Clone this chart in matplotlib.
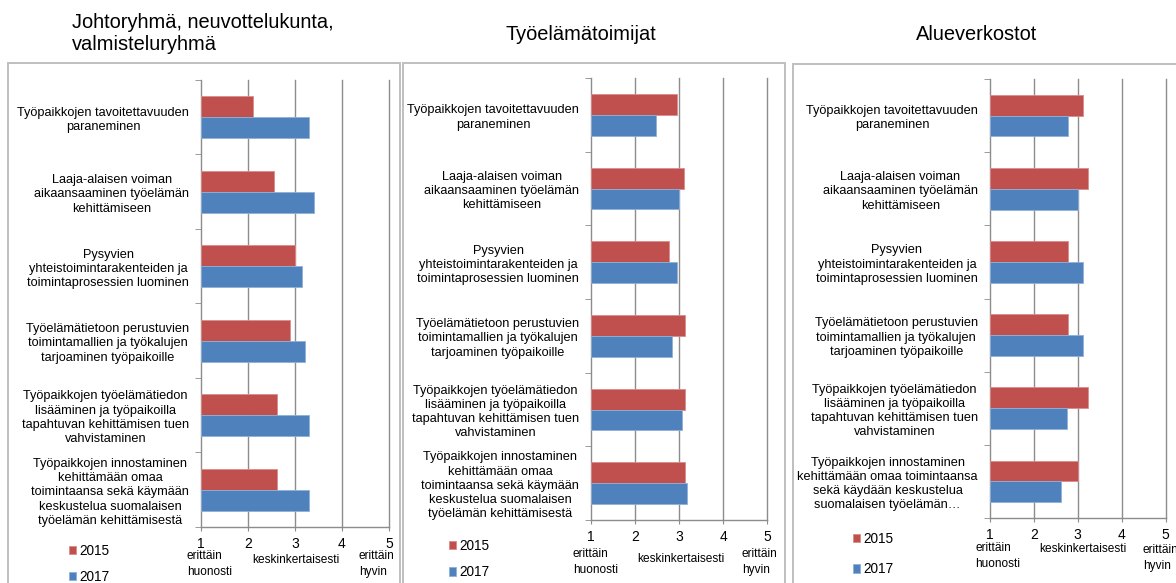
import matplotlib
matplotlib.use("Agg")
import numpy as np
import matplotlib.pyplot as plt
from matplotlib.patches import Rectangle

plt.rcParams["font.family"] = ["Liberation Sans", "DejaVu Sans"]

W, H = 1176, 583

YEARS = ["2015", "2017"]
SCALE = [1, 2, 3, 4, 5]
SCALE_WORDS = ["erittäin\nhuonosti", "keskinkertaisesti", "erittäin\nhyvin"]

TITLES = [
    "Johtoryhmä, neuvottelukunta,\nvalmisteluryhmä",
    "Työelämätoimijat",
    "Alueverkostot",
]

LABELS = [
    "Työpaikkojen tavoitettavuuden\nparaneminen",
    "Laaja-alaisen voiman\naikaansaaminen työelämän\nkehittämiseen",
    "Pysyvien\nyhteistoimintarakenteiden ja\ntoimintaprosessien luominen",
    "Työelämätietoon perustuvien\ntoimintamallien ja työkalujen\ntarjoaminen työpaikoille",
    "Työpaikkojen työelämätiedon\nlisääminen ja työpaikoilla\ntapahtuvan kehittämisen tuen\nvahvistaminen",
    "Työpaikkojen innostaminen\nkehittämään omaa\ntoimintaansa sekä käymään\nkeskustelua suomalaisen\ntyöelämän kehittämisestä",
]
LABELS_ALUE = LABELS[:5] + [
    "Työpaikkojen innostaminen\nkehittämään omaa toimintaansa\nsekä käydään keskustelua\nsuomalaisen työelämän…",
]

JOHTO_2015 = [2.11, 2.55, 3.00, 2.89, 2.62, 2.62]
JOHTO_2017 = [3.29, 3.40, 3.14, 3.21, 3.30, 3.30]
TYO_2015 = [2.94, 3.12, 2.76, 3.13, 3.13, 3.13]
TYO_2017 = [2.47, 3.00, 2.94, 2.83, 3.06, 3.17]
ALUE_2015 = [3.11, 3.23, 2.78, 2.78, 3.23, 3.00]
ALUE_2017 = [2.78, 3.00, 3.11, 3.11, 2.75, 2.63]

RED = "#C0504D"
BLUE = "#4F81BD"
GRID = "#8C8C8C"
FRAME = "#BFBFBF"
BAR_H = 0.285

# layout in pixels: axes (l, t, r, b), frame (l, t, r), title anchor, legend anchor,
# x positions of the scale words and their offsets below the axis
PANELS = [
    dict(title=TITLES[0], labels=LABELS, v15=JOHTO_2015, v17=JOHTO_2017,
         axes=(201, 80, 389, 527), frame=(7.5, 63, 400), title_xy=(72, 33.5), title_ha="left",
         legend_xy=(69, 544), legend_sp=0.85, word_x=(0.70, 3.02, 4.36), word_dy=(37, 33, 37)),
    dict(title=TITLES[1], labels=LABELS, v15=TYO_2015, v17=TYO_2017,
         axes=(591, 78, 767.3, 520), frame=(403, 63, 785), title_xy=(580.5, 34), title_ha="center",
         legend_xy=(449, 539), legend_sp=0.9, word_x=(0.585, 3.03, 4.42), word_dy=(42, 39, 42)),
    dict(title=TITLES[2], labels=LABELS_ALUE, v15=ALUE_2015, v17=ALUE_2017,
         axes=(989.7, 79, 1165.7, 518), frame=(793, 64, 1185), title_xy=(977, 34), title_ha="center",
         legend_xy=(853, 532), legend_sp=1.2, word_x=(0.67, 3.12, 4.48), word_dy=(38, 31, 40)),
]


def px_rect(l, t, r, b):
    return [l / W, 1 - b / H, (r - l) / W, (b - t) / H]


fig = plt.figure(figsize=(W / 100, H / 100), dpi=100)

for p in PANELS:
    fl, ft, fr = p["frame"]
    fig.patches.append(Rectangle((fl / W, -0.05), (fr - fl) / W, 1.05 - ft / H,
                                 transform=fig.transFigure, fill=False,
                                 edgecolor=FRAME, lw=1.4))

    ax = fig.add_axes(px_rect(*p["axes"]))
    y = np.arange(len(p["labels"]))
    v15 = np.array(p["v15"])
    v17 = np.array(p["v17"])
    b15 = ax.barh(y - BAR_H / 2, v15 - SCALE[0], left=SCALE[0], height=BAR_H,
                  color=RED, edgecolor="#D88C8A", lw=0.6, zorder=3)
    b17 = ax.barh(y + BAR_H / 2, v17 - SCALE[0], left=SCALE[0], height=BAR_H,
                  color=BLUE, edgecolor="#8FB0D8", lw=0.6, zorder=3)

    ax.set_xlim(SCALE[0], SCALE[-1])
    ax.set_ylim(len(y) - 0.5, -0.5)
    ax.set_xticks(SCALE)
    ax.set_xticklabels([str(s) for s in SCALE], fontsize=10)
    ax.tick_params(axis="x", length=3, color=GRID, pad=4)
    ax.set_yticks(y)
    ax.set_yticklabels(p["labels"], fontsize=9.2, ma="center", linespacing=1.25)
    ax.tick_params(axis="y", which="major", length=0, pad=8.5)
    ax.set_yticks(np.arange(len(y) + 1) - 0.5, minor=True)
    ax.tick_params(axis="y", which="minor", length=4, color=GRID)

    for s in ("top", "right"):
        ax.spines[s].set_visible(False)
    for s in ("left", "bottom"):
        ax.spines[s].set_color(GRID)
        ax.spines[s].set_linewidth(1.0)
    for gx in SCALE[1:]:
        ax.axvline(gx, color=GRID, lw=1.0, zorder=1, clip_on=False)

    for x, dy, word, ha in zip(p["word_x"], p["word_dy"], SCALE_WORDS,
                               ("left", "center", "left")):
        ax.annotate(word, xy=(x, 0), xycoords=("data", "axes fraction"),
                    xytext=(0, -dy * 0.72), textcoords="offset points",
                    ha=ha, va="center", fontsize=8.6, linespacing=1.35)

    tx, ty = p["title_xy"]
    fig.text(tx / W, 1 - ty / H, p["title"], ha=p["title_ha"], va="center",
             fontsize=14.4, linespacing=1.2)

    lx, ly = p["legend_xy"]
    fig.legend([b15, b17], YEARS, loc="upper left",
               bbox_to_anchor=(lx / W, 1 - ly / H), frameon=False, fontsize=9.8,
               handlelength=0.55, handleheight=0.55, handletextpad=0.2,
               labelspacing=p["legend_sp"], borderpad=0, borderaxespad=0)

fig.savefig("out.png", dpi=100)
